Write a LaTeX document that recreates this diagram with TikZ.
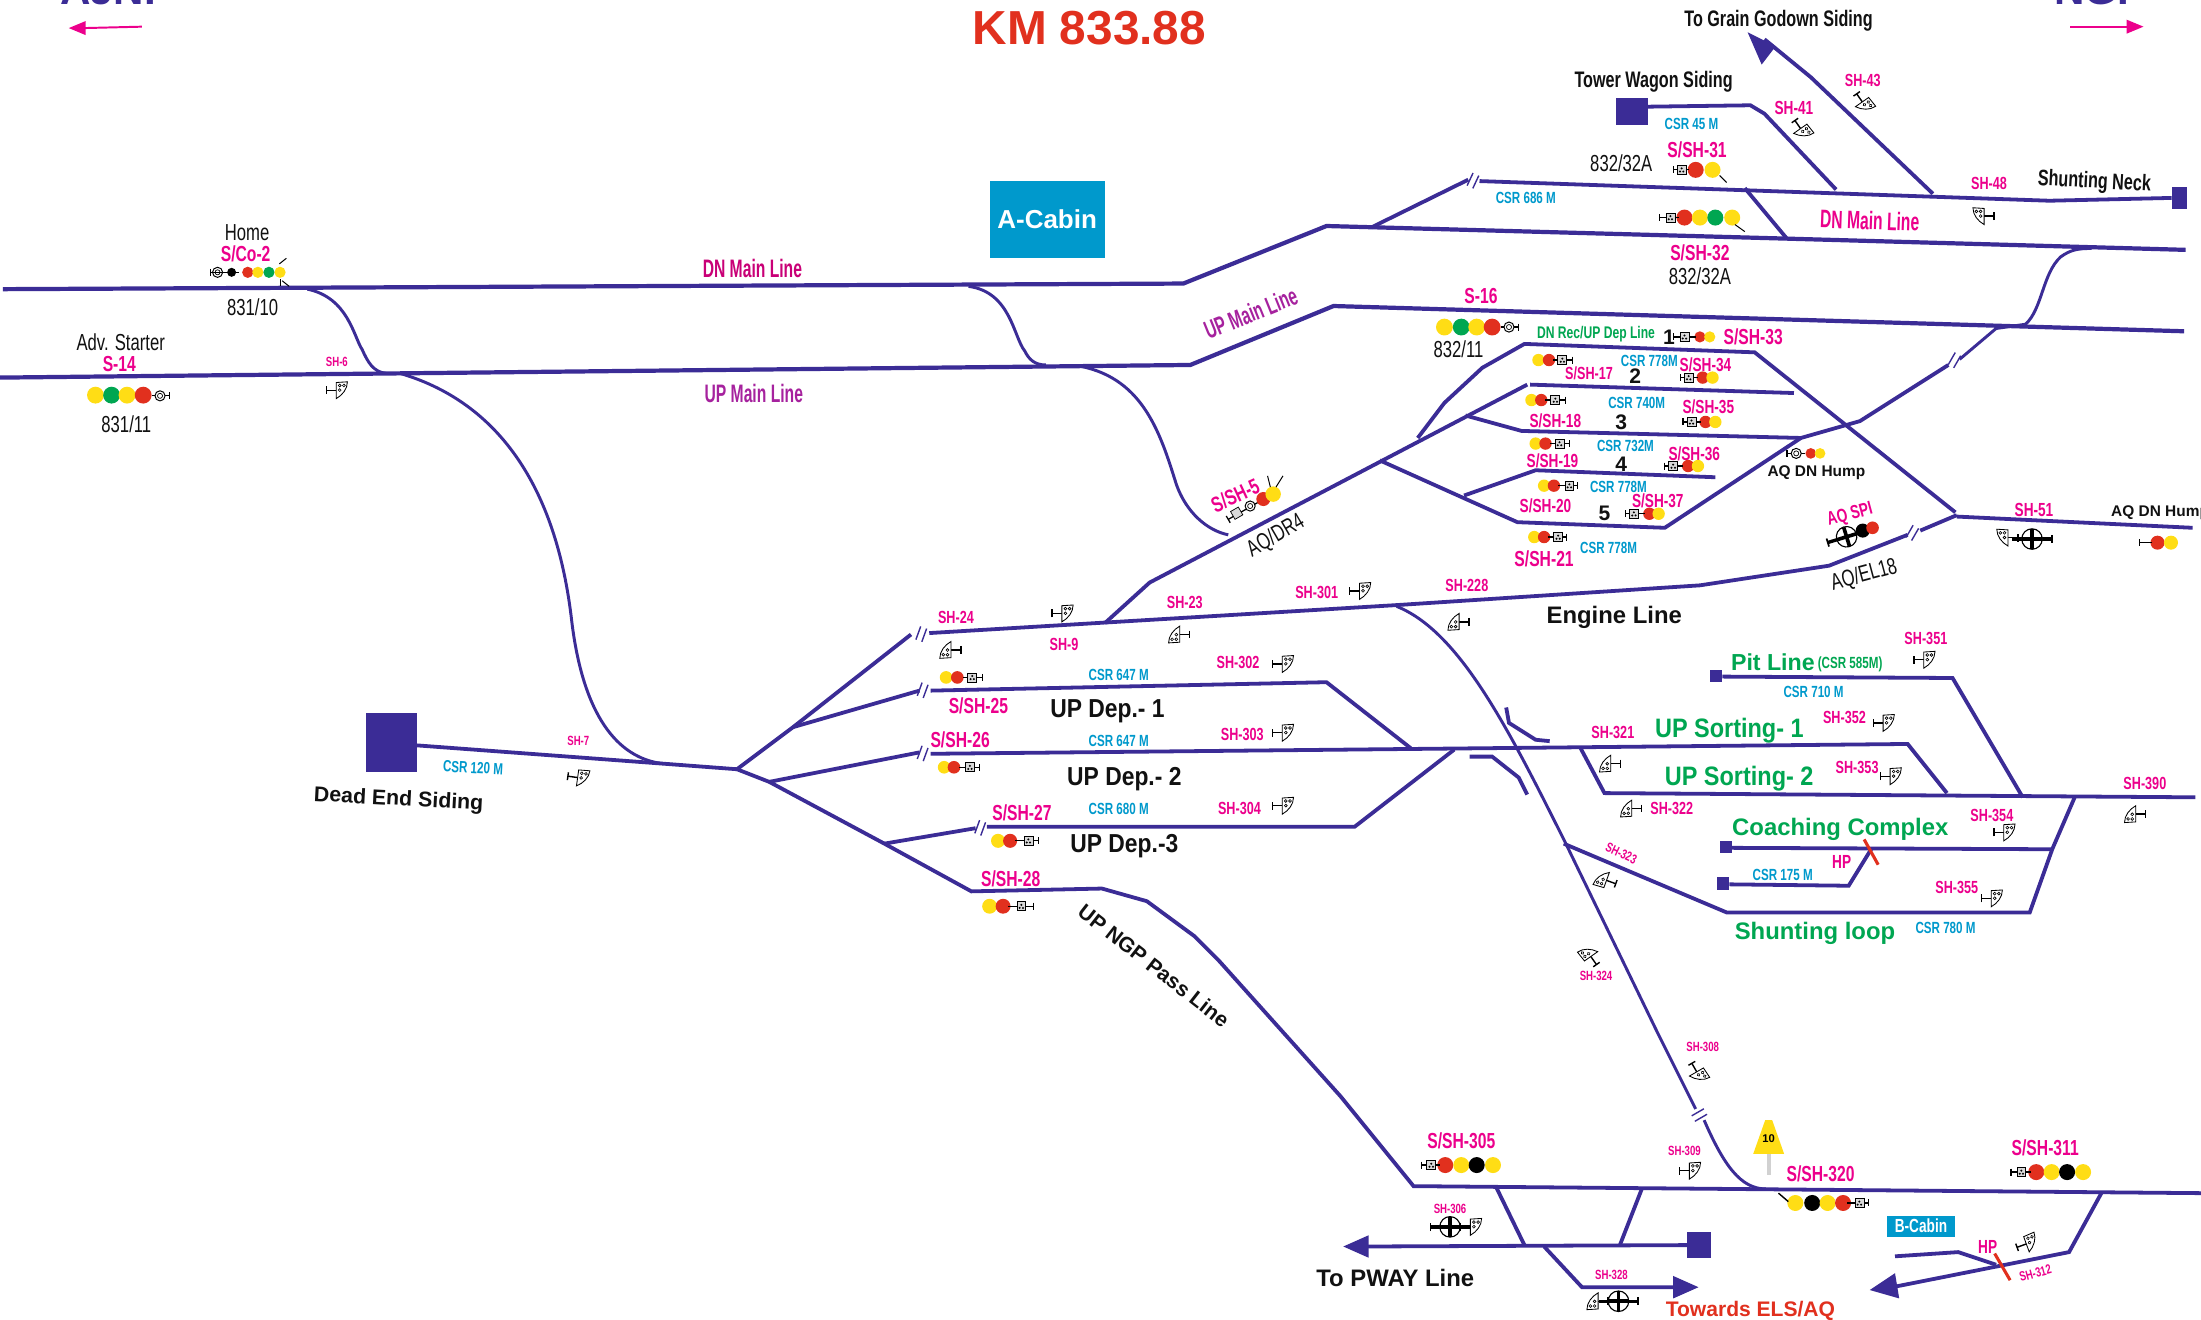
\documentclass[tikz,border=0pt]{standalone}
\usepackage{fontspec}
\setmainfont{Liberation Sans}
\newfontfamily\narf[FakeStretch=0.72]{Liberation Sans}
\newfontfamily\narr[FakeStretch=0.62]{Liberation Sans}
\newfontfamily\midw[FakeStretch=0.88]{Liberation Sans}
\newcommand\fnt[1]{\fontsize{#1}{#1}\selectfont}
\definecolor{trkc}{HTML}{3B2C96}
\definecolor{pkc}{HTML}{EC008C}
\definecolor{csrc}{HTML}{0099CC}
\definecolor{grn}{HTML}{00A651}
\definecolor{redc}{HTML}{E1301E}
\definecolor{yel}{HTML}{FFDD15}
\definecolor{pur}{HTML}{A6229E}
\definecolor{blk}{HTML}{111111}
\tikzset{
  trk/.style={draw=trkc,line width=2.7pt,line join=miter},
  trkm/.style={draw=trkc,line width=3pt},
  trks/.style={draw=trkc,line width=2.1pt},
  endsq/.style={fill=trkc,draw=none},
  tl/.style={inner sep=0pt,outer sep=0pt,anchor=center},
  p8/.style={tl,text=pkc,font=\narf\bfseries\fnt{9.5}},
  p10/.style={tl,text=pkc,font=\narf\bfseries\fnt{12.5}},
  p12/.style={tl,text=pkc,font=\narf\bfseries\fnt{13.5}},
  p14/.style={tl,text=pkc,font=\narf\bfseries\fnt{15.5}},
  c10/.style={tl,text=csrc,font=\narf\bfseries\fnt{11.5}},
  kr/.style={tl,text=blk,font=\narf\fnt{16.5}},
  kb/.style={tl,text=blk,font=\narf\bfseries\fnt{16}},
  kw/.style={tl,text=blk,font=\midw\bfseries\fnt{18.5}},
  ks/.style={tl,text=blk,font=\bfseries\fnt{11}},
  numb/.style={tl,text=blk,font=\bfseries\fnt{15}},
  gw/.style={tl,text=grn,font=\midw\bfseries\fnt{19}},
  big/.style={tl,text=pkc,font=\narr\bfseries\fnt{18}},
  brkl/.style={draw=trkc,line width=1pt},
  sigl/.style={draw=black,line width=0.9pt},
  ray/.style={draw=black,line width=0.7pt},
  cabin/.style={fill=csrc,draw=none,text=white,font=\bfseries,inner sep=0pt,anchor=center},
}
\newcounter{lb}
\newcommand\tlab[4]{\stepcounter{lb}\node[#1] (t\thelb) at (#2,#3) {#4};}
\newcommand\lampset[3]{\foreach \a/\b in {#3} \fill[\b] (\a,#1) circle[radius=#2];}
\newcommand\tbar[3]{\draw[sigl] (#1,#3) -- (#2,#3); \draw[sigl] (#1,#3-2.5) -- (#1,#3+2.5);}
\newcommand\bxicon[2]{\draw[black,fill=black!15,line width=.5pt] (#1-3.2,#2-3.2) rectangle (#1+3.2,#2+3.2);
  \fill[black] (#1-1.2,#2+1.2) circle[radius=.8] (#1+1.2,#2+1.2) circle[radius=.8] (#1,#2-1) circle[radius=.8];}
\newcommand\cricon[2]{\draw[black,fill=white,line width=.7pt] (#1,#2) circle[radius=3.6];\draw[black,line width=.5pt] (#1,#2) circle[radius=1.8];}
\newcommand\shunt[4]{\begin{scope}[shift={(#1,#2)},x=1pt,y=1pt,rotate=#3,xscale=#4]
  \draw[black,line width=1pt] (-7.5,0) -- (-.5,0); \draw[black,line width=1pt] (-7.5,-2.8) -- (-7.5,2.8);
  \draw[black,fill=white,line width=.6pt] (-.5,5.5) -- (7.5,6) .. controls (7.5,1) and (4,-3.5) .. (-.5,-6) -- cycle;
  \draw[black,line width=.45pt] (2,3.4) circle[radius=1] (5,3.4) circle[radius=1] (2,.1) circle[radius=1];
\end{scope}}
\newcommand\discic[3]{\begin{scope}[shift={(#1,#2)},x=1pt,y=1pt,rotate=#3]
  \draw[black,line width=2.4pt] (-14,0) -- (14,0);
  \draw[black,line width=1.2pt] (-14,-3) -- (-14,3);
  \draw[black,fill=white,line width=.8pt] (0,0) circle[radius=7.3];
  \draw[black,line width=2.6pt] (-7,0) -- (7,0);
  \draw[black,line width=2.6pt] (0,-7) -- (0,7);
\end{scope}}
\newcommand\brkm[3]{\begin{scope}[shift={(#1,#2)},x=1pt,y=1pt,rotate=#3]
  \draw[brkl] (-3,-5) -- (-3,5); \draw[brkl] (1.5,-5) -- (1.5,5);
\end{scope}}
\begin{document}
\begin{tikzpicture}[x=1pt,y=-1pt]
\useasboundingbox (0,0) rectangle (1568,939.7);
\clip (0,0) rectangle (1568,939.7);
\fill[white] (0,0) rectangle (1568,939.7);

% ---------- main lines
\path[trkm] (2,206) -- (843,202) -- (945,161) -- (1273,170) -- (1557,178);
\path[trkm] (0,269) -- (848,260) -- (950,218) -- (1556,236);
% crossovers, curves
\path[trks] (219,206) .. controls (248,212) and (252,240) .. (258,249) .. controls (262,258) and (266,265) .. (275,266);
\path[trks] (285,266) .. controls (350,285) and (395,340) .. (407,440) .. controls (415,510) and (440,540) .. (472,544);
\path[trks] (690,204) .. controls (720,208) and (722,240) .. (730,250) .. controls (733,256) and (737,260) .. (745,260);
\path[trks] (770,261) .. controls (815,270) and (827,310) .. (838,345) .. controls (845,365) and (860,378) .. (875,381);
% upper siding
\path[trk] (977,162) -- (1046,128);
\path[trk] (1054,129) -- (1460,143) -- (1547,141);
\fill[endsq] (1547,133) rectangle (1558,149);
\path[trk] (1243,134) -- (1273,170);
\fill[endsq] (1151,70) rectangle (1174,89);
\path[trk] (1174,76) -- (1247,75) -- (1257,81) -- (1308,135);
\path[trk] (1377,138) -- (1290,55) -- (1257,28);
\fill[trkc] (1245,23) -- (1265,33) -- (1255,46) -- cycle;
% dead-end siding and fan
\fill[endsq] (261,508) rectangle (297,550);
\path[trk] (297,531) -- (472,544) -- (525,548);
\path[trk] (525,548) -- (565,518) -- (649,452);
\path[trk] (662,451) -- (996,431) -- (1211,417) -- (1303,403) -- (1359,381);
\path[trk] (1368,378) -- (1394,367);
\path[trk] (565,518) -- (655,492);
\path[trk] (663,492) -- (945,486) -- (1005,533);
\path[trk] (525,548) -- (548,557) -- (630,601) -- (692,635) -- (785,633) -- (817,642) -- (851,667) -- (868,684) -- (955,781) -- (1007,845) -- (1568,850);
\path[trk] (548,557) -- (655,536);
\path[trk] (663,537) -- (1359,530) -- (1387,565);
\path[trk] (630,601) -- (695,590);
\path[trk] (703,589) -- (965,589) -- (1036,534);
% AQ lines
\path[trk] (787,444) -- (819,415) -- (1088,274);
\path[trk] (1010,312) -- (1029,287) -- (1056,262) -- (1086,245) -- (1250,251) -- (1393,365);
\path[trk] (1090,274) -- (1278,280);
\path[trk] (1044,296) -- (1084,307) -- (1283,312) -- (1325,300) -- (1388,260);
\path[trks] (1396,256) -- (1422,234) -- (1443,231) .. controls (1455,220) and (1455,195) .. (1468,183) .. controls (1475,178) and (1480,177) .. (1490,177);
\path[trk] (983,328) -- (1081,372) -- (1186,376) -- (1283,312);
\path[trk] (1043,353) -- (1094,335) -- (1222,340);
\path[trk] (1394,368) -- (1562,376);
% yard
\path[trks] (995,432) .. controls (1040,450) and (1075,520) .. (1115,600) -- (1180,734) -- (1208,790);
\path[trks] (1214,798) .. controls (1228,830) and (1240,847) .. (1258,847);
\path[trk] (1073,504) -- (1075,515) -- (1094,527) -- (1104,528);
\path[trk] (1047,539) -- (1063,539) -- (1082,554) -- (1088,566);
\path[trk] (1126,533) -- (1143,565) -- (1564,568);
\fill[endsq] (1218,477) rectangle (1227,486);
\path[trk] (1227,482) -- (1391,483) -- (1441,568);
\fill[endsq] (1225,599) rectangle (1234,608);
\path[trk] (1234,604) -- (1462,605);
\path[trk] (1478,568) -- (1462,605) -- (1446,650) -- (1230,650) -- (1114,601);
\fill[endsq] (1223,625) rectangle (1232,634);
\path[trk] (1232,630) -- (1317,631) -- (1333,605);
\draw[redc,line width=2.2pt] (1328,598) -- (1338,616);
% bottom
\path[trk] (1066,846) -- (1086,887);
\path[trk] (1170,846) -- (1154,887);
\path[trk] (974,888) -- (1203,887);
\fill[trkc] (957,888) -- (975,880) -- (975,896) -- cycle;
\fill[endsq] (1202,878) rectangle (1219,896);
\path[trk] (1100,888) -- (1127,917) -- (1195,917);
\fill[trkc] (1210,917) -- (1192,909) -- (1192,925) -- cycle;
\path[trk] (1497,850) -- (1474,892) -- (1348,917);
\fill[trkc] (1332,919) -- (1350,907) -- (1353,925) -- cycle;
\path[trk] (1350,895) -- (1395,892) -- (1422,901);
\draw[redc,line width=2.2pt] (1421,893) -- (1432,912);
% break marks
\brkm{1050}{129}{-25}
\brkm{1393}{257}{-30}
\brkm{1363}{380}{-30}
\brkm{657}{452}{-20}
\brkm{658}{492}{-20}
\brkm{658}{537}{-20}
\brkm{699}{590}{-20}
\brkm{1211}{795}{-60}
% direction arrows
\draw[pkc,line width=1.4pt] (101,19) -- (60,20);
\fill[pkc] (49,20) -- (61,15) -- (61,25) -- cycle;
\draw[pkc,line width=1.4pt] (1475,19) -- (1516,19);
\fill[pkc] (1527,19) -- (1515,14) -- (1515,24) -- cycle;

% ---------- titles
\tlab{tl,text=trkc,font=\bfseries\fnt{30}}{77}{-7}{AJNI}
\tlab{tl,text=trkc,font=\bfseries\fnt{30}}{1496}{-7}{NGP}
\tlab{tl,text=redc,font=\bfseries\fnt{34}}{776}{20}{KM 833.88}
% cabins
\node[cabin,minimum width=82pt,minimum height=55pt,font=\bfseries\fnt{18.5}] (acabin) at (746,156.5) {A-Cabin};
\node[cabin,minimum width=49pt,minimum height=15pt,font=\narf\bfseries\fnt{13.5}] (bcabin) at (1368.5,873.5) {B-Cabin};

% ---------- top right labels
\tlab{kb}{1267}{15}{To Grain Godown Siding}
\tlab{kb}{1178}{58}{Tower Wagon Siding}
\tlab{c10}{1205}{88}{CSR 45 M}
\tlab{p10}{1327}{57}{SH-43}
\tlab{p12}{1278}{77}{SH-41}
\tlab{p14}{1209}{107}{S/SH-31}
\tlab{kr}{1155}{116}{832/32A}
\tlab{p10}{1417}{131}{SH-48}
\tlab{kb,rotate=-3}{1492}{130}{Shunting Neck}
\tlab{c10}{1087}{141}{CSR 686 M}
\tlab{big,rotate=-2}{1332}{157}{DN Main Line}
\tlab{p14}{1211}{180}{S/SH-32}
\tlab{kr}{1211}{197}{832/32A}
\tlab{p14}{1055}{211}{S-16}
\tlab{kr}{1039}{249}{832/11}
\tlab{tl,text=grn,font=\narf\bfseries\fnt{12}}{1137}{238}{DN Rec/UP Dep Line}
\tlab{numb}{1189}{240}{1}
\tlab{p14}{1249}{240}{S/SH-33}
% left
\tlab{kr}{176}{166}{Home}
\tlab{p14}{175}{181}{S/Co-2}
\tlab{kr}{180}{219}{831/10}
\tlab{big,text=pkc!85!black}{536}{191}{DN Main Line}
\tlab{kr}{86}{244}{Adv. Starter}
\tlab{p14}{85}{259}{S-14}
\tlab{p8}{240}{258}{SH-6}
\tlab{kr}{90}{302}{831/11}
\tlab{big,text=pur}{537}{280}{UP Main Line}
\tlab{big,text=pur,rotate=22}{891}{223}{UP Main Line}
% tracks block
\tlab{p10}{1132}{266}{S/SH-17}
\tlab{numb}{1165}{268}{2}
\tlab{c10}{1175}{257}{CSR 778M}
\tlab{p12}{1215}{260}{S/SH-34}
\tlab{c10}{1166}{287}{CSR 740M}
\tlab{p12}{1108}{300}{S/SH-18}
\tlab{numb}{1155}{301}{3}
\tlab{p12}{1217}{290}{S/SH-35}
\tlab{c10}{1158}{318}{CSR 732M}
\tlab{p12}{1106}{328}{S/SH-19}
\tlab{numb}{1155}{331}{4}
\tlab{p12}{1207}{323}{S/SH-36}
\tlab{c10}{1153}{347}{CSR 778M}
\tlab{p12}{1101}{360}{S/SH-20}
\tlab{numb}{1143}{366}{5}
\tlab{p12}{1181}{357}{S/SH-37}
\tlab{p14}{1100}{398}{S/SH-21}
\tlab{c10}{1146}{390}{CSR 778M}
\tlab{ks}{1294}{337}{AQ DN Hump}
\tlab{kr,rotate=30}{909}{382}{AQ/DR4}
\tlab{p14,rotate=25}{880}{353}{S/SH-5}
\tlab{p12,rotate=15}{1318}{367}{AQ SPI}
\tlab{p12}{1449}{363}{SH-51}
\tlab{ks,anchor=west}{1504}{365}{AQ DN Hump}
\tlab{kr,rotate=15}{1328}{410}{AQ/EL18}
\tlab{tl,text=blk,font=\bfseries\fnt{17}}{1150}{439.5}{Engine Line}
\tlab{p10}{1045}{417}{SH-228}
\tlab{p10}{938}{422}{SH-301}
\tlab{p10}{844}{429}{SH-23}
\tlab{p10}{681}{440}{SH-24}
\tlab{p10}{758}{459}{SH-9}
% yard labels
\tlab{tl,text=grn,font=\bfseries\fnt{16.5}}{1263}{472}{Pit Line}
\tlab{tl,text=grn,font=\narf\bfseries\fnt{11.5}}{1318}{473}{(CSR 585M)}
\tlab{p10}{1372}{455}{SH-351}
\tlab{c10}{1292}{493}{CSR 710 M}
\tlab{p10}{1314}{511}{SH-352}
\tlab{p10}{882}{472}{SH-302}
\tlab{c10}{797}{481}{CSR 647 M}
\tlab{p14}{697}{503}{S/SH-25}
\tlab{kw}{789}{507}{UP Dep.- 1}
\tlab{gw}{1232}{520.5}{UP Sorting- 1}
\tlab{p10}{1149}{522}{SH-321}
\tlab{p10}{885}{523}{SH-303}
\tlab{c10}{797}{528}{CSR 647 M}
\tlab{p14}{684}{527}{S/SH-26}
\tlab{p10}{1323}{547}{SH-353}
\tlab{gw}{1239}{554.5}{UP Sorting- 2}
\tlab{kw}{801}{555}{UP Dep.- 2}
\tlab{p10}{1191}{576}{SH-322}
\tlab{p10}{883}{576}{SH-304}
\tlab{c10}{797}{576}{CSR 680 M}
\tlab{p14}{728}{579}{S/SH-27}
\tlab{kw}{801}{603}{UP Dep.-3}
\tlab{gw,font=\bfseries\fnt{17}}{1311}{590.5}{Coaching Complex}
\tlab{p10}{1419}{581}{SH-354}
\tlab{p10}{1528}{558}{SH-390}
\tlab{p8,rotate=-25}{1155}{608}{SH-323}
\tlab{p12}{1312}{614}{HP}
\tlab{c10}{1270}{623}{CSR 175 M}
\tlab{p14}{720}{626}{S/SH-28}
\tlab{p10}{1394}{632}{SH-355}
\tlab{gw,font=\bfseries\fnt{17}}{1293}{665}{Shunting loop}
\tlab{c10}{1386}{661}{CSR 780 M}
\tlab{tl,text=blk,font=\bfseries\fnt{15},rotate=-38}{822}{688}{UP NGP Pass Line}
\tlab{p8}{412}{528}{SH-7}
\tlab{c10,rotate=-3}{337}{547}{CSR 120 M}
\tlab{tl,text=blk,font=\bfseries\fnt{15.2},rotate=-3}{284}{570}{Dead End Siding}
\tlab{p8}{1137}{695}{SH-324}
\tlab{p8}{1213}{746}{SH-308}
\tlab{p8}{1200}{820}{SH-309}
\tlab{p14}{1041}{813}{S/SH-305}
\tlab{p14}{1297}{836}{S/SH-320}
\tlab{p14}{1457}{818}{S/SH-311}
\tlab{p8}{1033}{861}{SH-306}
\tlab{p12}{1416}{888}{HP}
\tlab{p8,rotate=15}{1450}{907}{SH-312}
\tlab{p8}{1148}{908}{SH-328}
\tlab{tl,text=blk,font=\bfseries\fnt{17}}{994}{910.5}{To PWAY Line}
\tlab{tl,text=redc,font=\bfseries\fnt{15}}{1247}{934}{Towards ELS/AQ}

% ---------- speed sign
\fill[black!18] (1258.5,822) rectangle (1261.5,837);
\fill[yel] (1257.5,798) -- (1262.5,798) -- (1271,822) -- (1249,822) -- cycle;
\tlab{tl,text=black,font=\bfseries\fnt{8}}{1260}{811}{10}

% ---------- multi-lamp signals
\lampset{194}{4}{176.5/redc,183.7/yel,191.6/grn,199.5/yel}
\cricon{155}{194}\fill[black] (165,194) circle[radius=3.2];\tbar{150}{170}{194}
\draw[ray] (199,188) -- (204,184); \draw[ray] (201,200) -- (206,204); \draw[ray] (199.5,199) -- (199.5,204);
\lampset{281.5}{6}{68/yel,79.5/grn,90.5/yel,102/redc}
\tbar{121}{108}{282}\cricon{114}{282}
\lampset{233}{6}{1029/yel,1041/grn,1052/yel,1063/redc}
\tbar{1082}{1069}{233}\cricon{1075}{233}
\lampset{240}{4}{1211/redc,1218/yel}\tbar{1192}{1208}{240}\bxicon{1200}{240}
\lampset{121}{5.7}{1208/redc,1220/yel}\tbar{1192}{1203}{121}\bxicon{1198}{121}
\draw[ray] (1225,125) -- (1230,130);
\lampset{155}{5.7}{1200/redc,1211/yel,1222/grn,1234/yel}\tbar{1182}{1196}{155}\bxicon{1190}{155}
\draw[ray] (1236,160) -- (1243,165);
\lampset{256.5}{4.4}{1096/yel,1103.5/redc}\tbar{1120}{1106}{256.5}\bxicon{1113}{256.5}
\lampset{285}{4.4}{1091/yel,1098/redc}\tbar{1115}{1101}{285}\bxicon{1108}{285}
\lampset{316}{4.4}{1094/yel,1101/redc}\tbar{1118}{1104}{316}\bxicon{1111}{316}
\lampset{346}{4.4}{1100/yel,1107/redc}\tbar{1124}{1110}{346}\bxicon{1118}{346}
\lampset{382.6}{4.4}{1093/yel,1100/redc}\tbar{1116}{1103}{382.6}\bxicon{1110}{382.6}
\lampset{269}{4.4}{1213/redc,1220/yel}\tbar{1197}{1210}{269}\bxicon{1203}{269}
\lampset{300.6}{4.4}{1215/redc,1222/yel}\tbar{1199}{1212}{300.6}\bxicon{1205}{300.6}
\lampset{332}{4.4}{1202.6/redc,1209.6/yel}\tbar{1186}{1199}{332}\bxicon{1192}{332}
\lampset{366}{4.4}{1175/redc,1181.6/yel}\tbar{1158}{1172}{366}\bxicon{1164}{366}
\lampset{482.6}{4.5}{674/yel,682/redc}\tbar{700}{686}{482.6}\bxicon{692.6}{482.6}
\lampset{546.6}{4.5}{672.6/yel,679.6/redc}\tbar{698}{683}{546.6}\bxicon{691}{546.6}
\lampset{599}{5}{711/yel,719.6/redc}\tbar{739.6}{723}{599}\bxicon{732.6}{599}
\lampset{645.6}{5.3}{705/yel,714.6/redc}\tbar{736}{718}{645.6}\bxicon{727.6}{645.6}
\lampset{830}{5.7}{1029.6/redc,1041/yel,1052/black,1063.6/yel}\tbar{1012.6}{1026}{830}\bxicon{1019.6}{830}
\lampset{857}{5.7}{1279/yel,1291/black,1302/yel,1313/redc}\tbar{1331}{1316}{857}\bxicon{1324.6}{857}
\draw[black,line width=1pt] (1267,850) -- (1274,856);
\lampset{835}{5.7}{1450.6/redc,1461.6/yel,1472.6/black,1484/yel}\tbar{1432.6}{1447}{835}\bxicon{1440}{835}
% S/SH-5 (tilted)
\draw[sigl] (875,370) -- (903,354);
\draw[sigl] (873.6,367.6) -- (876.4,372.4);
\begin{scope}[shift={(881,365.6)},x=1pt,y=1pt,rotate=30]
 \draw[black,fill=black!15,line width=.5pt] (-3.2,-3.2) rectangle (3.2,3.2);
\end{scope}
\cricon{890.6}{360.5}
\lampset{355.5}{5}{900/redc}\lampset{352}{5.5}{907/yel}
\draw[ray] (905,347) -- (903,339); \draw[ray] (909,347) -- (914,339);
% Hump
\lampset{323}{3.8}{1290/redc,1296.6/yel}\tbar{1273}{1286}{323}\cricon{1279.6}{323}
\lampset{386.6}{5}{1537/redc,1546.6/yel}\tbar{1524}{1533}{386.6}
% ---------- disc signals
\fill[black] (1327,378) circle[radius=5]; \fill[redc] (1334,376) circle[radius=4.5];
\discic{1315.5}{382.4}{17}
\discic{1447.6}{384}{180}
\shunt{1430}{383}{0}{-1}
\discic{1033}{874}{0}
\shunt{1048}{874}{0}{1}
\discic{1153}{927}{180}
\shunt{1138}{927}{180}{1}
% ---------- shunt signals
\shunt{240}{278}{0}{1}
\shunt{412}{554}{-8}{1}
\shunt{757}{437}{0}{1}
\shunt{969}{421}{0}{1}
\shunt{914}{473}{0}{1}
\shunt{914}{522}{0}{1}
\shunt{914}{574}{0}{1}
\shunt{1371}{470}{0}{1}
\shunt{1342}{515}{0}{1}
\shunt{1347}{553}{0}{1}
\shunt{1428}{593}{0}{1}
\shunt{1419}{640}{0}{1}
\shunt{1204}{834}{0}{1}
\shunt{677}{463}{180}{1}
\shunt{840}{452}{180}{1}
\shunt{1039}{443}{180}{1}
\shunt{1147}{544}{180}{1}
\shunt{1162}{576}{180}{1}
\shunt{1521}{580}{180}{1}
\shunt{1413}{154}{0}{-1}
\shunt{1327}{73}{-55}{1}
\shunt{1283}{92}{-55}{1}
\shunt{1209}{764}{-60}{1}
\shunt{1144}{627}{160}{1}
\shunt{1133}{681}{125}{1}
\shunt{1444}{886}{20}{1}
\end{tikzpicture}
\end{document}
